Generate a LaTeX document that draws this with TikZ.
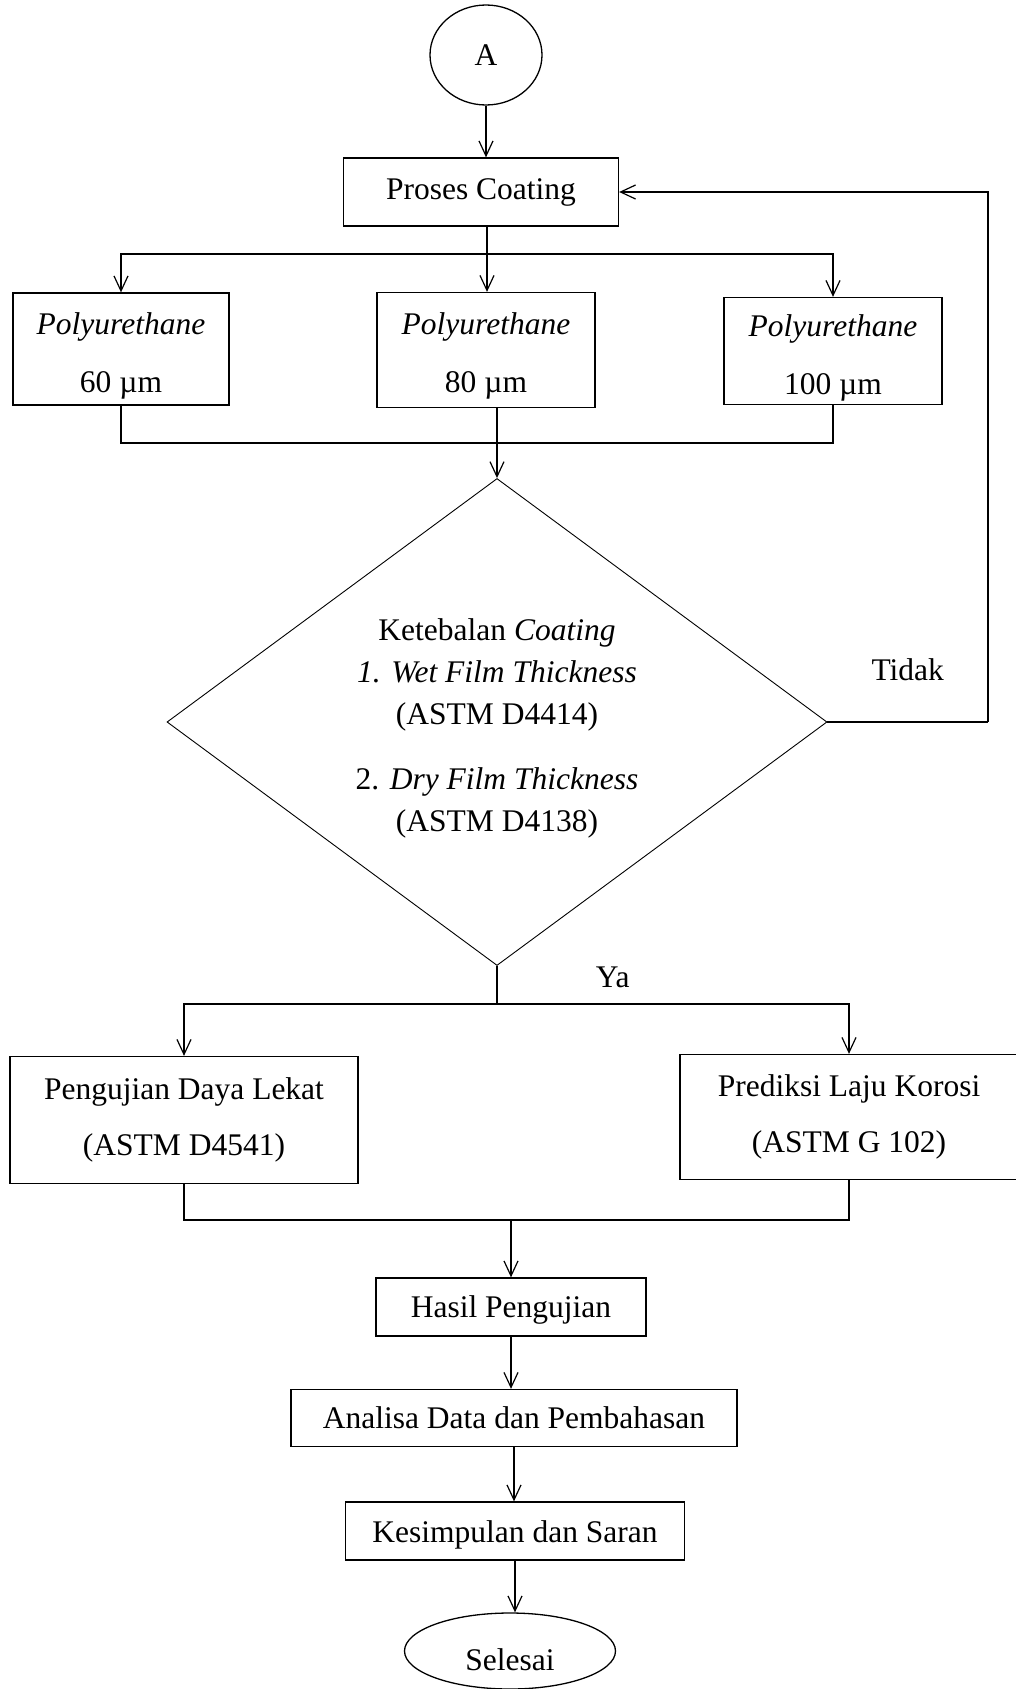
\documentclass[tikz,border=0pt]{standalone}
\usepackage{fontspec}
\setmainfont{Liberation Serif}
\usetikzlibrary{shapes.geometric,arrows.meta}
\tikzset{
    %open arrow tip
    >={Straight Barb[length=15pt,width=14pt]},
    box/.style={draw, line width=1.3pt, inner sep=0pt, align=center},
    term/.style={draw, ellipse, line width=1.3pt, inner sep=0pt},
    flow/.style={line width=1.2pt, ->},
    wire/.style={line width=1.2pt}
}

\begin{document}
\begin{tikzpicture}[x=1pt, y=-1pt, font=\fontsize{31.5}{38}\selectfont]
    \useasboundingbox (0,0) rectangle (1016,1689);

    \node[term, minimum width=112pt, minimum height=100pt] (A) at (486,55) {A};
    \node[box, minimum width=275pt, minimum height=68pt] (coat) at (481,192) {Proses Coating};

    \node[box, minimum width=216pt, minimum height=112pt] (pu60) at (121,349) {\rule{0pt}{36pt}\textit{Polyurethane}\\[20pt]60 µm};
    \node[box, minimum width=218pt, minimum height=115pt] (pu80) at (486,350) {\rule{0pt}{34pt}\textit{Polyurethane}\\[20pt]80 µm};
    \node[box, minimum width=218pt, minimum height=107pt] (pu100) at (833,351) {\rule{0pt}{36pt}\textit{Polyurethane}\\[20pt]100 µm};

    \node[draw, diamond, aspect=1.35, line width=0.9pt, inner sep=0pt, align=center,
          minimum width=660pt, minimum height=487pt, font=\fontsize{31.5}{42}\selectfont] (test) at (497,722)
          {\rule{0pt}{34.5pt}Ketebalan \textit{Coating}\\ \textit{1. Wet Film Thickness}\\ (ASTM D4414)\\[23pt] 2. \textit{Dry Film Thickness}\\ (ASTM D4138)};

    \node[box, minimum width=348pt, minimum height=127pt] (adhesi) at (184,1120) {Pengujian Daya Lekat\\[18pt](ASTM D4541)};
    \node[box, minimum width=338pt, minimum height=125pt] (korosi) at (849,1117) {Prediksi Laju Korosi\\[18pt](ASTM G 102)};

    \node[box, minimum width=270pt, minimum height=58pt] (hasil) at (511,1307) {\rule{0pt}{28pt}Hasil Pengujian};
    \node[box, minimum width=446pt, minimum height=57pt] (analisa) at (514,1418) {Analisa Data dan Pembahasan};
    \node[box, minimum width=339pt, minimum height=58pt] (simpul) at (515,1531) {\rule{0pt}{30pt}Kesimpulan dan Saran};
    \node[term, minimum width=211pt, minimum height=76pt] (selesai) at (510,1651) {\rule{0pt}{38.5pt}Selesai};

    \coordinate (split1) at (487,254);
    \coordinate (join1) at (497,443);
    \coordinate (loop) at (988,722);
    \coordinate (split2) at (497,1004);
    \coordinate (join2) at (511,1220);

    \draw [flow] (A.south) -- (A.south |- coat.north);
    \draw [wire] (coat.south -| split1) -- (split1);
    \draw [flow] (split1) -| (pu60.north);
    \draw [flow] (split1) -- (pu80.north -| split1);
    \draw [flow] (split1) -| (pu100.north);

    \draw [wire] (pu60.south) |- (join1);
    \draw [wire] (pu100.south) |- (join1);
    \draw [flow] (pu80.south -| test.north) -- (test.north);

    \draw [wire] (test.east) -- node[above=37pt] {Tidak} (loop);
    \draw [flow] (loop) |- (coat.east);

    \draw [wire] (test.south) -- node[pos=0.3, right=95pt] {Ya} (split2);
    \draw [flow] (split2) -| (adhesi.north);
    \draw [flow] (split2) -| (korosi.north);

    \draw [wire] (adhesi.south) |- (join2);
    \draw [wire] (korosi.south) |- (join2);
    \draw [flow] (join2) -- (join2 |- hasil.north);
    \draw [flow] (hasil.south) -- (hasil.south |- analisa.north);
    \draw [flow] (analisa.south) -- (analisa.south |- simpul.north);
    \draw [flow] (simpul.south) -- (simpul.south |- selesai.north);
\end{tikzpicture}
\end{document}
